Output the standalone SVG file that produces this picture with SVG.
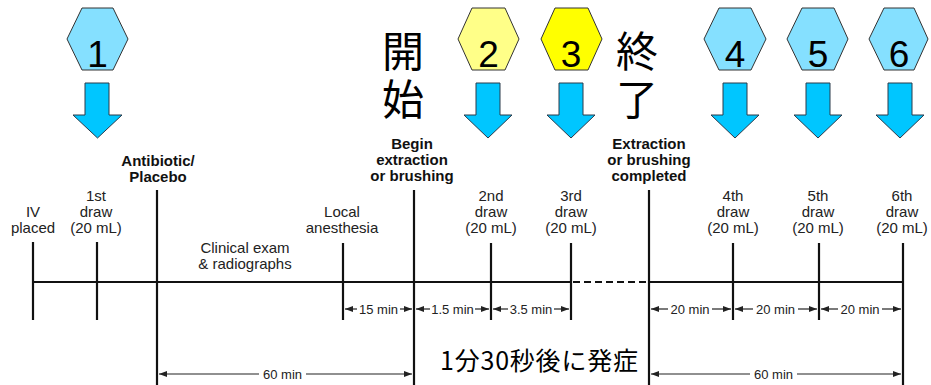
<svg xmlns="http://www.w3.org/2000/svg" width="931" height="385" viewBox="0 0 931 385">
<style>
.hex{stroke:#333;stroke-width:1}
.blue{fill:#85E0FF}
.ly{fill:#FFFF88}
.yl{fill:#FFFF00}
.arr{fill:#00C6FF;stroke:#2a3a4a;stroke-width:1}
.num{font-family:"Liberation Sans",Arial,sans-serif;font-size:37px;fill:#000;text-anchor:middle}
.kj{font-family:"Noto Sans CJK JP",sans-serif;font-size:42px;fill:#000;writing-mode:vertical-rl;letter-spacing:6px}
.lb{font-family:"Liberation Sans",Arial,sans-serif;font-size:15px;fill:#222;text-anchor:middle}
.bd{font-family:"Liberation Sans",Arial,sans-serif;font-size:15px;font-weight:bold;fill:#111;text-anchor:middle}
.dm{font-family:"Liberation Sans",Arial,sans-serif;font-size:13px;fill:#222;text-anchor:middle}
.tl{stroke:#111;stroke-width:2.2;fill:none}
.dl{stroke:#222;stroke-width:1.2;fill:none}
.jp{font-family:"Noto Sans CJK JP",sans-serif;font-size:25px;fill:#000}
</style>
<defs>
<marker id="ah" viewBox="0 0 8 6" refX="8" refY="3" markerWidth="8" markerHeight="6" markerUnits="userSpaceOnUse" orient="auto-start-reverse">
<path d="M0,0 L8,3 L0,6 z" fill="#222"/>
</marker>
</defs>
<rect width="931" height="385" fill="#fff"/>

<g id="step1">
<polygon class="hex blue" points="82,8 113,8 128,39 113,70 82,70 67,39"/>
<text class="num" x="97.5" y="67">1</text>
<path class="arr" d="M85,83 H109 V115 H122 L97.5,138 L73,115 H85 Z"/>
</g>
<g id="step2">
<polygon class="hex ly" points="472,8 505,8 519,39 505,70 472,70 458,39"/>
<text class="num" x="488.5" y="67">2</text>
<path class="arr" d="M476,83 H500 V115 H512 L488,138 L464,115 H476 Z"/>
</g>
<g id="step3">
<polygon class="hex yl" points="555,8 588,8 602,39 588,70 555,70 541,39"/>
<text class="num" x="571" y="67">3</text>
<path class="arr" d="M559,83 H583 V115 H595 L571,138 L547,115 H559 Z"/>
</g>
<g id="step4">
<polygon class="hex blue" points="719,8 751,8 766,39 751,70 719,70 704,39"/>
<text class="num" x="735" y="67">4</text>
<path class="arr" d="M723,83 H747 V115 H759 L735,138 L711,115 H723 Z"/>
</g>
<g id="step5">
<polygon class="hex blue" points="802,8 834,8 848,39 834,70 802,70 787,39"/>
<text class="num" x="818" y="67">5</text>
<path class="arr" d="M806,83 H830 V115 H842 L818,138 L794,115 H806 Z"/>
</g>
<g id="step6">
<polygon class="hex blue" points="884,8 914,8 928,39 914,70 884,70 869,39"/>
<text class="num" x="899" y="67">6</text>
<path class="arr" d="M888,83 H912 V115 H924 L900,138 L876,115 H888 Z"/>
</g>

<g id="start-label">
<text class="kj" x="403" y="30">開始</text>
</g>
<g id="end-label">
<text class="kj" x="637" y="30">終了</text>
</g>

<g id="timeline">
<line class="tl" x1="33" y1="282" x2="571" y2="282"/>
<line class="tl" x1="573" y1="282" x2="647" y2="282" stroke-dasharray="7,4"/>
<line class="tl" x1="649" y1="282" x2="904" y2="282"/>
<line class="tl" x1="33" y1="242" x2="33" y2="320"/>
<line class="tl" x1="97" y1="242" x2="97" y2="320"/>
<line class="tl" x1="157" y1="190" x2="157" y2="385"/>
<line class="tl" x1="343" y1="243" x2="343" y2="320"/>
<line class="tl" x1="414" y1="190" x2="414" y2="385"/>
<line class="tl" x1="491" y1="243" x2="491" y2="320"/>
<line class="tl" x1="571" y1="243" x2="571" y2="320"/>
<line class="tl" x1="649" y1="190" x2="649" y2="385"/>
<line class="tl" x1="733" y1="243" x2="733" y2="320"/>
<line class="tl" x1="819" y1="243" x2="819" y2="320"/>
<line class="tl" x1="903" y1="243" x2="903" y2="385"/>
</g>

<g id="dimensions">
<line class="dl" x1="357" y1="309" x2="345" y2="309" marker-end="url(#ah)"/>
<line class="dl" x1="400" y1="309" x2="412" y2="309" marker-end="url(#ah)"/>
<text class="dm" x="378.5" y="313.5">15 min</text>
<line class="dl" x1="430" y1="309" x2="416" y2="309" marker-end="url(#ah)"/>
<line class="dl" x1="475" y1="309" x2="489" y2="309" marker-end="url(#ah)"/>
<text class="dm" x="452.5" y="313.5">1.5 min</text>
<line class="dl" x1="508" y1="309" x2="493" y2="309" marker-end="url(#ah)"/>
<line class="dl" x1="554" y1="309" x2="569" y2="309" marker-end="url(#ah)"/>
<text class="dm" x="531" y="313.5">3.5 min</text>
<line class="dl" x1="668" y1="309" x2="651" y2="309" marker-end="url(#ah)"/>
<line class="dl" x1="712" y1="309" x2="731" y2="309" marker-end="url(#ah)"/>
<text class="dm" x="690" y="313.5">20 min</text>
<line class="dl" x1="753" y1="309" x2="735" y2="309" marker-end="url(#ah)"/>
<line class="dl" x1="798" y1="309" x2="817" y2="309" marker-end="url(#ah)"/>
<text class="dm" x="775.5" y="313.5">20 min</text>
<line class="dl" x1="838" y1="309" x2="821" y2="309" marker-end="url(#ah)"/>
<line class="dl" x1="882" y1="309" x2="901" y2="309" marker-end="url(#ah)"/>
<text class="dm" x="860" y="313.5">20 min</text>
<line class="dl" x1="259" y1="374" x2="159" y2="374" marker-end="url(#ah)"/>
<line class="dl" x1="306" y1="374" x2="412" y2="374" marker-end="url(#ah)"/>
<text class="dm" x="282.5" y="378.5">60 min</text>
<line class="dl" x1="750" y1="374" x2="651" y2="374" marker-end="url(#ah)"/>
<line class="dl" x1="797" y1="374" x2="901" y2="374" marker-end="url(#ah)"/>
<text class="dm" x="773.5" y="378.5">60 min</text>
</g>

<g id="labels">
<text class="lb" x="33" y="217">IV</text>
<text class="lb" x="33" y="233">placed</text>
<text class="lb" x="96" y="201">1st</text>
<text class="lb" x="96" y="217">draw</text>
<text class="lb" x="96" y="233">(20 mL)</text>
<text class="bd" x="158" y="166">Antibiotic/</text>
<text class="bd" x="158" y="182">Placebo</text>
<text class="lb" x="245" y="253">Clinical exam</text>
<text class="lb" x="245" y="269">&amp; radiographs</text>
<text class="lb" x="342" y="217">Local</text>
<text class="lb" x="342" y="233">anesthesia</text>
<text class="bd" x="412" y="149">Begin</text>
<text class="bd" x="412" y="165">extraction</text>
<text class="bd" x="412" y="181">or brushing</text>
<text class="lb" x="491" y="201">2nd</text>
<text class="lb" x="491" y="217">draw</text>
<text class="lb" x="491" y="233">(20 mL)</text>
<text class="lb" x="571" y="201">3rd</text>
<text class="lb" x="571" y="217">draw</text>
<text class="lb" x="571" y="233">(20 mL)</text>
<text class="bd" x="649" y="149">Extraction</text>
<text class="bd" x="649" y="165">or brushing</text>
<text class="bd" x="649" y="181">completed</text>
<text class="lb" x="733" y="201">4th</text>
<text class="lb" x="733" y="217">draw</text>
<text class="lb" x="733" y="233">(20 mL)</text>
<text class="lb" x="818" y="201">5th</text>
<text class="lb" x="818" y="217">draw</text>
<text class="lb" x="818" y="233">(20 mL)</text>
<text class="lb" x="902" y="201">6th</text>
<text class="lb" x="902" y="217">draw</text>
<text class="lb" x="902" y="233">(20 mL)</text>
<text class="jp" x="440" y="370" textLength="198">1分30秒後に発症</text>
</g>
</svg>
